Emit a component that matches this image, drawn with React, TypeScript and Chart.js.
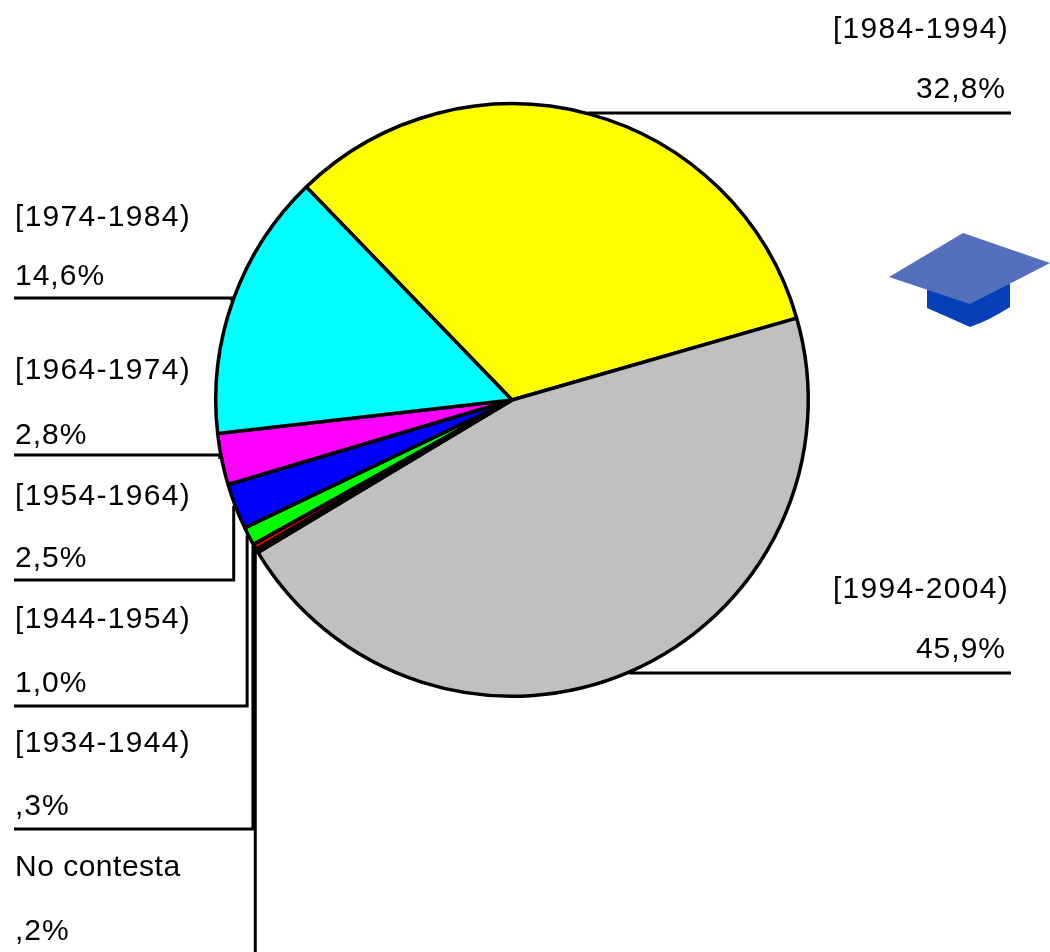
import React, { useEffect, useRef } from "react";
import { Chart, registerables } from "chart.js";

Chart.register(...registerables);

const categories = ["[1984-1994)", "[1994-2004)", "No contesta", "[1934-1944)", "[1944-1954)", "[1954-1964)", "[1964-1974)", "[1974-1984)"];
const values = [32.8, 45.9, 0.2, 0.3, 1.0, 2.5, 2.8, 14.6];
const valueLabels = ["32,8%", "45,9%", ",2%", ",3%", "1,0%", "2,5%", "2,8%", "14,6%"];
const sliceColors = ["#ffff00", "#c0c0c0", "#808080", "#ff0000", "#00ff00", "#0000ff", "#ff00ff", "#00ffff"];

// Layout of each slice's callout: side, text baselines, leader line height.
const calloutSide = ["right", "right", "left", "left", "left", "left", "left", "left"];
const categoryBaseline = [38, 598, 876, 752, 628, 505, 379, 226];
const valueBaseline = [98, 658, 940, 815, 692, 567, 444, 285];
const leaderY = [113, 673, 952, 829, 706, 580, 455, 298];
const categorySpacing = [1.3, 1.3, 0.5, 1.3, 1.3, 1.3, 1.3, 1.3];

const calloutPlugin = {
  id: "callouts",
  beforeDatasetsDraw(chart: any) {
    const { ctx } = chart;
    const arcs = chart.getDatasetMeta(0).data;
    ctx.save();
    ctx.strokeStyle = "#000";
    ctx.lineWidth = 3;
    ctx.lineCap = "butt";
    ctx.lineJoin = "miter";
    arcs.forEach((arc: any, i: number) => {
      const mid = (arc.startAngle + arc.endAngle) / 2;
      const ax = arc.x + Math.cos(mid) * (arc.outerRadius + 2);
      const ay = arc.y + Math.sin(mid) * (arc.outerRadius - 2);
      const endX = calloutSide[i] === "right" ? 1011 : 14;
      ctx.beginPath();
      ctx.moveTo(ax, ay);
      ctx.lineTo(ax, leaderY[i]);
      if (i !== 2) ctx.lineTo(endX, leaderY[i]);
      ctx.stroke();
    });
    ctx.restore();
  },
  afterDatasetsDraw(chart: any) {
    const { ctx } = chart;
    ctx.save();
    ctx.fillStyle = "#000";
    ctx.font = '30px "Liberation Sans", Arial, sans-serif';
    ctx.textBaseline = "alphabetic";
    categories.forEach((name, i) => {
      const right = calloutSide[i] === "right";
      ctx.textAlign = right ? "right" : "left";
      ctx.letterSpacing = `${categorySpacing[i]}px`;
      ctx.fillText(name, right ? 1009 : 15, categoryBaseline[i]);
      ctx.letterSpacing = "1px";
      ctx.fillText(valueLabels[i], right ? 1006 : 15, valueBaseline[i]);
    });
    ctx.restore();
  },
};

export default function App() {
  const ref = useRef<HTMLCanvasElement>(null);
  useEffect(() => {
    document.body.style.margin = "0";
    const chart = new Chart(ref.current as HTMLCanvasElement, {
      type: "pie",
      data: {
        labels: categories,
        datasets: [
          {
            data: values,
            backgroundColor: sliceColors,
            borderColor: "#000",
            borderWidth: 3.5,
          },
        ],
      },
      options: {
        responsive: false,
        animation: false,
        rotation: -44,
        layout: { padding: { left: 214, right: 240, top: 102, bottom: 254 } },
        plugins: { legend: { display: false }, tooltip: { enabled: false } },
      },
      plugins: [calloutPlugin],
    } as any);
    return () => chart.destroy();
  }, []);
  return (
    <div style={{ position: "relative", width: 1050, height: 952, overflow: "hidden", background: "#fff" }}>
      <canvas ref={ref} width={1050} height={952} style={{ position: "absolute", left: 0, top: 0 }} />
      <svg width={1050} height={952} style={{ position: "absolute", left: 0, top: 0 }}>
        <path d="M927 288 L927 308 Q950 318 970 327 Q990 320 1010 307 L1010 284 Z" fill="#0540b8" />
        <path d="M963 233 L1050 263 L970 304 L889 277 Z" fill="#5470bd" />
      </svg>
    </div>
  );
}
